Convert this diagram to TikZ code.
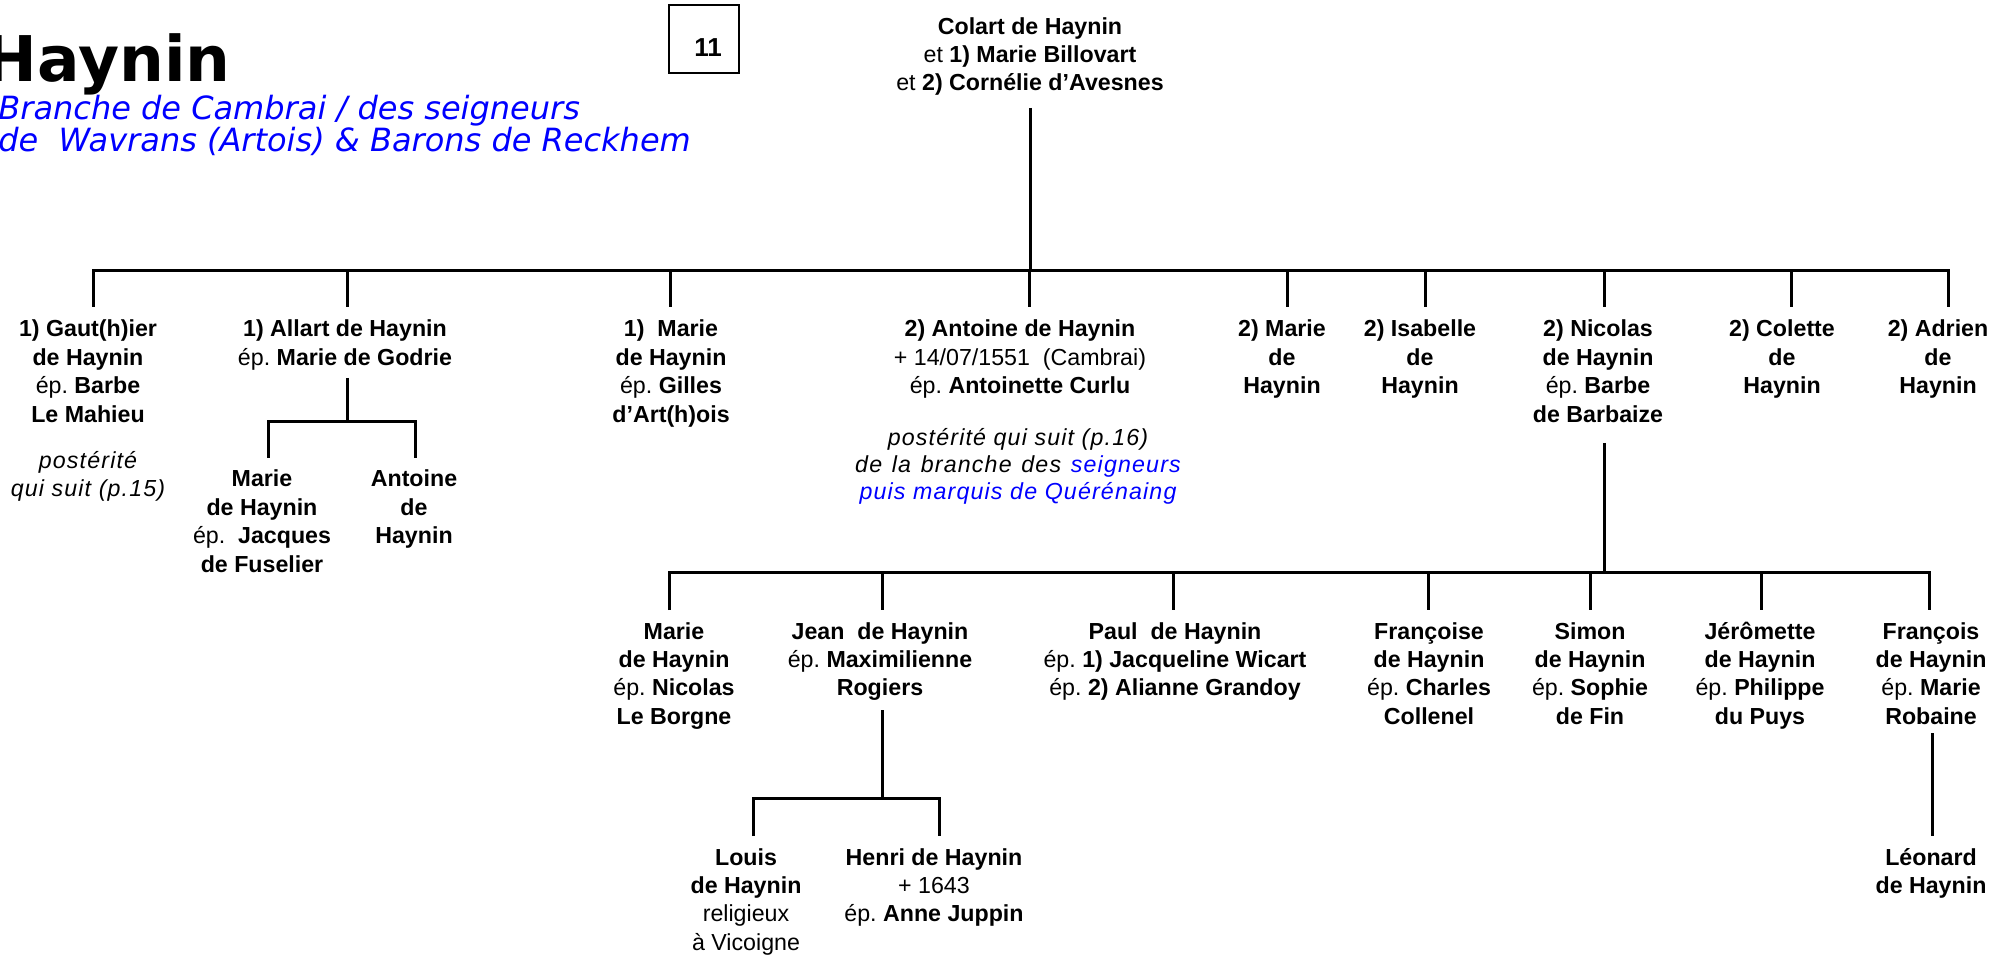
\documentclass[tikz,border=0pt]{standalone}
\usepackage{fontspec}
\setmainfont{Liberation Sans}
\newfontfamily\itsp{Liberation Sans}[LetterSpace=5]
\newfontfamily\verd{DejaVu Sans}
\definecolor{tblue}{RGB}{0,0,255}
\newcommand\tb[1]{\begin{tabular}[t]{@{}c@{}}#1\end{tabular}}
\newcommand\ep{\textmd{ép.}}
\frenchspacing
\begin{document}
\begin{tikzpicture}[x=0.5pt,y=-0.5pt,
  person/.style={font=\fontsize{11.6}{14.2}\selectfont\bfseries, inner sep=0pt, anchor=base},
  note/.style={font=\itsp\itshape\fontsize{11.6}{13.6}\selectfont, inner sep=0pt, anchor=base},
  line/.style={line width=1.5pt},
  subt/.style={inner sep=0pt, anchor=base west, text=tblue, font=\verd\itshape\fontsize{16}{16}\selectfont}]
\fill[white] (0,0) rectangle (1995,956);
\useasboundingbox (0,0) rectangle (1995,956);

% title
\node[inner sep=0pt, anchor=base east, font=\verd\bfseries\fontsize{31.5}{32}\selectfont] (title) at (231,82) {Haynin};
\node[subt] (sub1) at (-2,120) {Branche de Cambrai / des seigneurs};
\node[subt] (sub2) at (-2,152) {de\ \ Wavrans (Artois) \& Barons de Reckhem};

% page box
\node[draw, line width=1pt, minimum width=35pt, minimum height=34pt, inner sep=0pt] (pagebox) at (704,39) {};
\node[inner sep=0pt, anchor=base, font=\bfseries\fontsize{13}{14}\selectfont] (pageno) at (708,57) {11};

% root
\node[person] (colart) at (1030,35) {\fontsize{11.6}{13.8}\selectfont\tb{Colart de Haynin\\ \textmd{et} 1) Marie Billovart\\ \textmd{et} 2) Cornélie d’Avesnes}};

% row 1
\node[person] (gaut) at (88,337) {\tb{1) Gaut(h)ier\\de Haynin\\\ep{} Barbe\\Le Mahieu}};
\node[note] (post15) at (88,469) {\tb{postérité\\qui suit (p.15)}};
\node[person] (allart) at (345,337) {\tb{1) Allart de Haynin\\\ep{} Marie de Godrie}};
\node[person] (mfus) at (262,487) {\tb{Marie\\de Haynin\\\ep{}\ \ Jacques\\de Fuselier}};
\node[person] (antal) at (414,487) {\tb{Antoine\\de\\Haynin}};
\node[person] (marie1) at (671,337) {\tb{1)\ \ Marie\\de Haynin\\\ep{} Gilles\\d’Art(h)ois}};
\node[person] (antoine) at (1020,337) {\tb{2) Antoine de Haynin\\\textmd{+ 14/07/1551\ \ (Cambrai)}\\\ep{} Antoinette Curlu}};
\node[note] (post16) at (1018,445) {\tb{postérité qui suit (p.16)\\{\spaceskip=0.42em de la branche des \textcolor{tblue}{seigneurs}}\\\textcolor{tblue}{puis marquis de Quérénaing}}};
\node[person] (marie2) at (1282,337) {\tb{2) Marie\\de\\Haynin}};
\node[person] (isabelle) at (1420,337) {\tb{2) Isabelle\\de\\Haynin}};
\node[person] (nicolas) at (1598,337) {\tb{2) Nicolas\\de Haynin\\\ep{} Barbe\\de Barbaize}};
\node[person] (colette) at (1782,337) {\tb{2) Colette\\de\\Haynin}};
\node[person] (adrien) at (1938,337) {\tb{2) Adrien\\de\\Haynin}};

% row 2
\node[person] (mborgne) at (674,639) {\tb{Marie\\de Haynin\\\ep{} Nicolas\\Le Borgne}};
\node[person] (jean) at (880,639) {\tb{Jean\ \ de Haynin\\\ep{} Maximilienne\\Rogiers}};
\node[person] (paul) at (1175,639) {\tb{Paul\ \ de Haynin\\\ep{} 1) Jacqueline Wicart\\\ep{} 2) Alianne Grandoy}};
\node[person] (francoise) at (1429,639) {\tb{Françoise\\de Haynin\\\ep{} Charles\\Collenel}};
\node[person] (simon) at (1590,639) {\tb{Simon\\de Haynin\\\ep{} Sophie\\de Fin}};
\node[person] (jeromette) at (1760,639) {\tb{Jérômette\\de Haynin\\\ep{} Philippe\\du Puys}};
\node[person] (francois) at (1931,639) {\tb{François\\de Haynin\\\ep{} Marie\\Robaine}};

% row 3
\node[person] (louis) at (746,865) {\tb{Louis\\de Haynin\\\textmd{religieux}\\\textmd{à Vicoigne}}};
\node[person] (henri) at (934,865) {\tb{Henri de Haynin\\\textmd{+ 1643}\\\ep{} Anne Juppin}};
\node[person] (leonard) at (1931,865) {\tb{Léonard\\de Haynin}};

% ---- connectors: generation 1
\coordinate (colart-s) at (1030,108);
\coordinate (j1) at (1030,271);
\draw[line] (colart-s) -- (j1);
\coordinate (gaut-dn) at (93,307);
\coordinate (adrien-dn) at (1948,307);
\draw[line] (gaut-dn) |- (j1) -| (adrien-dn);
\foreach \n/\x in {allart/347, marie1/670, antoine/1029, marie2/1287, isabelle/1425, nicolas/1604, colette/1791}{
  \coordinate (\n-up) at (\x,271);
  \coordinate (\n-dn) at (\x,307);
  \draw[line] (\n-up) -- (\n-dn);
}

% Allart's children
\coordinate (allart-s) at (347,378);
\coordinate (j2) at (347,422);
\coordinate (mfus-dn) at (268,458);
\coordinate (antal-dn) at (415,458);
\draw[line] (allart-s) -- (j2);
\draw[line] (mfus-dn) |- (j2) -| (antal-dn);

% Nicolas' children
\coordinate (nicolas-s) at (1604,443);
\coordinate (j3) at (1604,572);
\draw[line] (nicolas-s) -- (j3);
\coordinate (mborgne-dn) at (669,610);
\coordinate (francois-dn) at (1929,610);
\draw[line] (mborgne-dn) |- (j3) -| (francois-dn);
\foreach \n/\x in {jean/882, paul/1173, francoise/1428, simon/1590, jeromette/1761}{
  \coordinate (\n-up) at (\x,572);
  \coordinate (\n-dn) at (\x,610);
  \draw[line] (\n-up) -- (\n-dn);
}

% Jean's children
\coordinate (jean-s) at (882,710);
\coordinate (j4) at (882,798);
\coordinate (louis-dn) at (753,836);
\coordinate (henri-dn) at (939,836);
\draw[line] (jean-s) -- (j4);
\draw[line] (louis-dn) |- (j4) -| (henri-dn);

% Francois' child
\coordinate (francois-s) at (1932,733);
\coordinate (leonard-up) at (1932,836);
\draw[line] (francois-s) -- (leonard-up);
\end{tikzpicture}
\end{document}
